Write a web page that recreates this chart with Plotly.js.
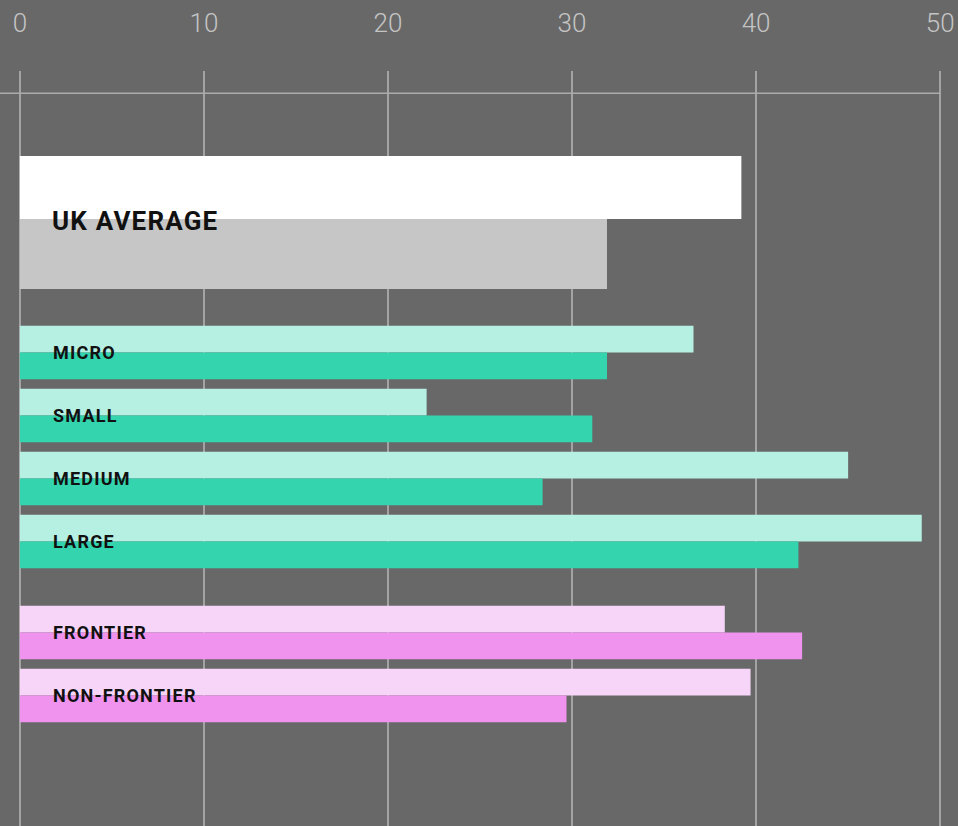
<!DOCTYPE html>
<html>
<head>
<meta charset="utf-8">
<script src="https://cdn.plot.ly/plotly-3.0.1.min.js"></script>
<style>
html,body{margin:0;padding:0;background:#686868;}
#chart{width:958px;height:826px;}
.annotation-text{letter-spacing:1.2px;}
</style>
</head>
<body>
<div id="chart"></div>
<script>
// ---- data ----
var ukCategories = ["UK AVERAGE"];
var ukLight = [39.2];
var ukDark = [31.9];

var sizeCategories = ["MICRO", "SMALL", "MEDIUM", "LARGE"];
var sizeLight = [36.6, 22.1, 45.0, 49.0];
var sizeDark = [31.9, 31.1, 28.4, 42.3];

var frontierCategories = ["FRONTIER", "NON-FRONTIER"];
var frontierLight = [38.3, 39.7];
var frontierDark = [42.5, 29.7];

var xTicks = [0, 10, 20, 30, 40, 50];

// ---- styles ----
var W = 958, H = 826, mT = 71, mB = 0, mL = 18, mR = 16;
var plotH = H - mT - mB;
var plotW = W - mL - mR;
function frac(px){ return (H - mB - px) / plotH; }
var unit = 63; // px per category

function barTrace(cats, vals, yaxis, color, offset, width){
  return {
    type: 'bar', orientation: 'h',
    y: cats, x: vals, yaxis: yaxis, xaxis: 'x',
    marker: {color: color, line: {width: 0}},
    offset: offset, width: width,
    hoverinfo: 'skip', showlegend: false
  };
}

var bw = 26.7 / unit;
var traces = [
  barTrace(ukCategories, ukLight, 'y', '#ffffff', -1, 1),
  barTrace(ukCategories, ukDark, 'y', '#c6c6c6', 0, 70 / unit),
  barTrace(sizeCategories, sizeLight, 'y2', '#b5f0e2', -bw, bw),
  barTrace(sizeCategories, sizeDark, 'y2', '#33d4ae', 0, bw),
  barTrace(frontierCategories, frontierLight, 'y3', '#f7d5f9', -bw, bw),
  barTrace(frontierCategories, frontierDark, 'y3', '#ef93ef', 0, bw)
];

function yAxis(domain, range){
  return {
    type: 'category', domain: domain, range: range,
    showgrid: false, zeroline: false, showline: false,
    showticklabels: false, ticks: '', fixedrange: true
  };
}

var annotations = [];
function addLabels(cats, yref, size, xshift, yshift){
  cats.forEach(function(c){
    annotations.push({
      x: 0, xref: 'x', y: c, yref: yref,
      text: c, showarrow: false, xanchor: 'left', yanchor: 'middle',
      xshift: xshift, yshift: yshift, borderpad: 0,
      font: {family: 'Roboto', size: size, color: '#111111', weight: 'bold'}
    });
  });
}
addLabels(ukCategories, 'y', 26, 31, -2);
addLabels(sizeCategories, 'y2', 18, 32, 0);
addLabels(frontierCategories, 'y3', 18, 32, 0);

var b1 = 307, b2 = 587;
var layout = {
  width: W, height: H,
  margin: {l: mL, r: mR, t: mT, b: mB, pad: 0},
  paper_bgcolor: '#686868', plot_bgcolor: '#686868',
  barmode: 'overlay',
  showlegend: false,
  hovermode: false,
  xaxis: {
    range: [-0.1, 50.1], side: 'top', anchor: 'y',
    tickvals: xTicks, ticktext: xTicks.map(String),
    ticks: 'outside', ticklen: 28, tickcolor: 'rgba(0,0,0,0)',
    tickfont: {family: 'Roboto', size: 26, color: '#c4c4c4', weight: 300},
    showgrid: true, gridcolor: '#a3a3a3', gridwidth: 1.5,
    zeroline: false, showline: false, fixedrange: true
  },
  yaxis: yAxis([frac(b1), 1], [(b1 - 219) / unit, (mT - 219) / unit]),
  yaxis2: yAxis([frac(b2), frac(b1)], [(b2 - 352.5) / unit, (b1 - 352.5) / unit]),
  yaxis3: yAxis([0, frac(b2)], [(H - 632.5) / unit, (b2 - 632.5) / unit]),
  shapes: [{
    type: 'line', xref: 'paper', yref: 'paper',
    x0: -mL / plotW, x1: (940 - mL) / plotW, y0: frac(93.3), y1: frac(93.3),
    line: {color: '#ababab', width: 1.5}
  }],
  annotations: annotations
};

Plotly.newPlot('chart', traces, layout, {displayModeBar: false, staticPlot: true});
</script>
</body>
</html>
